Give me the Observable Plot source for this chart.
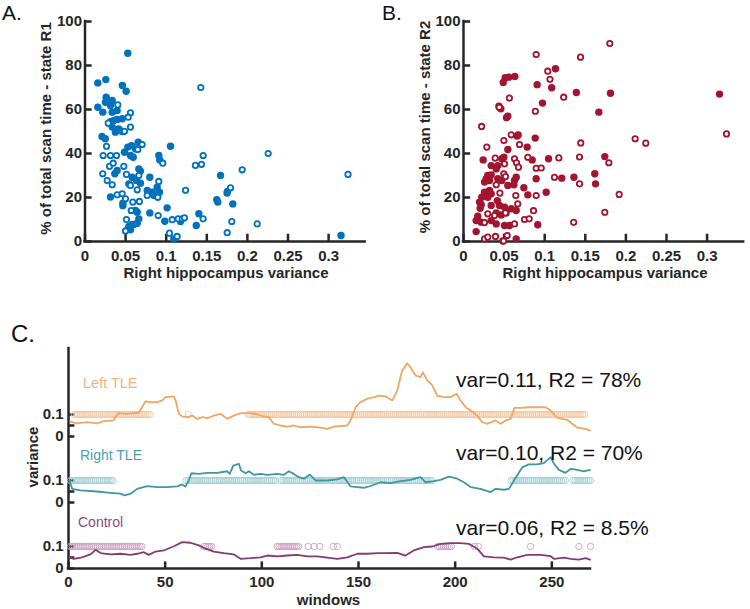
<!DOCTYPE html>
<html>
<head>
<meta charset="utf-8">
<script src="https://cdn.jsdelivr.net/npm/d3@7"></script>
<script src="https://cdn.jsdelivr.net/npm/@observablehq/plot@0.6"></script>
<style>
  html, body { margin: 0; padding: 0; background: #fff; }
  #root { position: relative; width: 750px; height: 609px; overflow: hidden; font-family: "Liberation Sans", Arial, sans-serif; }
  .panel { position: absolute; }
  #overlay { position: absolute; left: 0; top: 0; pointer-events: none; }
</style>
</head>
<body>
<div id="root">
  <div id="pa" class="panel" style="left:0;top:0"></div>
  <div id="pb" class="panel" style="left:370px;top:0"></div>
  <div id="pc" class="panel" style="left:0;top:330px"></div>
</div>
<script>
// ---------- Panel A: state R1 (x = right hippocampus variance, y = % scan time) ----------
const aFilled = [[0.0527,85.6],[0.0158,72.1],[0.0256,73.6],[0.046,70.9],[0.0507,68.3],[0.0261,65.6],[0.0252,63.3],[0.0335,64.1],[0.0314,61.8],[0.0158,61],[0.0219,58.8],[0.0335,58.8],[0.0396,59.5],[0.0458,55.8],[0.0314,54.5],[0.0355,55],[0.0396,55.5],[0.0335,52],[0.0375,49.7],[0.0416,51.2],[0.021,47.7],[0.025,46.7],[0.0458,50],[0.0527,42.9],[0.0486,40.6],[0.0573,43.6],[0.0622,42.1],[0.0655,45.1],[0.1053,43.3],[0.056,39.1],[0.0594,38.3],[0.0367,30.8],[0.0396,32.3],[0.0663,33],[0.0683,32],[0.0581,29.2],[0.0634,27.7],[0.0683,26.5],[0.054,26.2],[0.0314,20.2],[0.0466,17.4],[0.0466,16.3],[0.0798,29.2],[0.0766,23.2],[0.0828,22.4],[0.0889,24.7],[0.0917,22.4],[0.0846,21],[0.0909,39.1],[0.0921,37.1],[0.0868,20.9],[0.0798,13],[0.0983,9.2],[0.1012,15.3],[0.1094,1.2],[0.1176,9.1],[0.0643,13.3],[0.0663,10.3],[0.0643,8.3],[0.054,6.8],[0.056,5.3],[0.0622,14.1],[0.0582,7.7],[0.0601,7.7],[0.1402,12.6],[0.137,7.3],[0.1669,30],[0.1623,19],[0.1636,17.9],[0.175,22],[0.1755,22.8],[0.182,17.1],[0.3153,2.7]];
const aOpen = [[0.1426,70],[0.0404,62.1],[0.056,58.5],[0.0532,56.5],[0.056,52],[0.0286,53.8],[0.0486,50.1],[0.0265,43.3],[0.0704,44.1],[0.065,41.8],[0.0224,39.1],[0.0314,39.1],[0.0388,39.1],[0.0302,34.2],[0.0347,35.6],[0.0478,34.2],[0.0219,30.8],[0.0273,27.7],[0.0335,25.8],[0.0511,30.5],[0.0663,30],[0.056,25.5],[0.0643,23.5],[0.0958,35.6],[0.0909,27.3],[0.1238,23.3],[0.0396,21.2],[0.0458,21.7],[0.0499,19.4],[0.0589,17.9],[0.067,18.2],[0.0766,20.9],[0.0897,20.1],[0.0569,14.1],[0.0511,10],[0.0499,4.8],[0.0901,11.8],[0.1074,9.9],[0.1148,10.3],[0.1197,10.3],[0.1225,10.8],[0.104,3.8],[0.1135,2.3],[0.136,34.6],[0.1435,35.1],[0.1455,39.1],[0.1455,10.3],[0.1808,9.1],[0.1751,4],[0.212,8],[0.1936,32.6],[0.2256,40],[0.1792,24.4],[0.3239,30.5]];

// ---------- Panel B: state R2 ----------
const bFilled = [[0.1133,78.5],[0.0513,74.4],[0.0558,74.7],[0.0632,75],[0.0489,72.3],[0.0907,71.3],[0.1086,69.9],[0.139,67.7],[0.181,67.4],[0.3153,67],[0.0973,62.9],[0.0436,61.5],[0.046,60.3],[0.1667,58.8],[0.053,56.3],[0.0546,57],[0.0883,47],[0.066,47.9],[0.0673,48.4],[0.0546,41.8],[0.0784,42.9],[0.0242,37.1],[0.0472,37.6],[0.0497,38.3],[0.0846,37.1],[0.1047,37.6],[0.174,38.6],[0.0341,34.5],[0.0422,34.5],[0.0403,33],[0.0299,30],[0.0341,30.3],[0.028,28.5],[0.032,27.7],[0.0259,27],[0.0422,28.5],[0.0472,27.7],[0.0546,25.5],[0.062,25.8],[0.0649,29.2],[0.0628,27.7],[0.0743,24.4],[0.0895,28.5],[0.121,28.8],[0.136,29.2],[0.1617,30.8],[0.1626,26.2],[0.1018,22.4],[0.0792,21.2],[0.0259,22.4],[0.032,23.2],[0.0225,20.1],[0.0299,20.1],[0.0341,21.7],[0.0197,17.9],[0.0218,16.7],[0.0205,15.1],[0.0341,16.4],[0.0416,18.6],[0.0443,16.4],[0.0505,15.6],[0.0588,14.9],[0.0649,14.1],[0.0525,13],[0.0464,12.1],[0.0403,13],[0.0176,11.5],[0.0156,9.5],[0.0218,8.8],[0.0341,9.5],[0.0403,8],[0.0505,7.3],[0.0567,7.3],[0.0915,7.6],[0.0156,4.5],[0.0484,0.2],[0.0649,1.2]];
const bOpen = [[0.1802,90],[0.0895,85],[0.1441,83.8],[0.1038,77.4],[0.1065,73.7],[0.1234,65.6],[0.0565,65.2],[0.044,61],[0.0885,59.2],[0.0223,52.3],[0.0587,48.5],[0.0497,45.9],[0.069,44.1],[0.0287,42.9],[0.1444,44.8],[0.2114,46.7],[0.2245,44.7],[0.3239,48.9],[0.039,37.9],[0.0628,37.6],[0.0792,38.3],[0.0653,35.8],[0.0677,33.8],[0.0895,33.3],[0.0957,33.4],[0.1174,38],[0.1429,38.4],[0.1429,26.2],[0.112,29.2],[0.179,35.8],[0.0505,35.3],[0.0497,30.8],[0.0517,29.5],[0.0403,25.8],[0.0448,22],[0.0644,20.9],[0.0895,20.9],[0.1917,21.4],[0.0668,17.1],[0.0862,14],[0.174,13.3],[0.1357,8.7],[0.0259,8.6],[0.0628,8],[0.0751,10],[0.0809,10.3],[0.0394,2.3],[0.0259,1.2],[0.0299,2],[0.0493,0.2],[0.0538,2.7],[0.0517,13],[0.0299,12.6],[0.0382,11.8]];

const scatterXTicks = [0, 0.05, 0.1, 0.15, 0.2, 0.25, 0.3];
const scatterYTicks = [0, 20, 40, 60, 80, 100];

// ---------- Panel C: variance time courses ([window, variance]) ----------
const leftTLE = [[1,0.068],[4.5,0.06],[9.7,0.065],[14.8,0.06],[18.3,0.07],[23.4,0.073],[24.3,0.088],[26,0.106],[30.4,0.103],[36.4,0.108],[38.1,0.133],[39.8,0.16],[42.4,0.156],[45.9,0.156],[48.5,0.164],[50.2,0.179],[54.5,0.182],[55.4,0.164],[57.1,0.103],[58.8,0.091],[61.4,0.088],[64,0.095],[66.6,0.08],[69.2,0.088],[71.8,0.083],[75.2,0.095],[78.6,0.103],[82.1,0.08],[85.5,0.095],[89,0.106],[94.2,0.106],[97.6,0.1],[101.1,0.091],[103.6,0.088],[106.2,0.058],[109.6,0.05],[113.1,0.045],[116.5,0.05],[120,0.042],[125.2,0.045],[130.4,0.04],[133.8,0.035],[137.3,0.045],[144.2,0.05],[145.9,0.073],[148.5,0.133],[151,0.156],[154.5,0.171],[157.9,0.179],[160.5,0.186],[164,0.182],[167.5,0.164],[170,0.209],[172.6,0.3],[175.2,0.333],[176.9,0.315],[179.5,0.277],[182.1,0.27],[183.3,0.292],[185.6,0.255],[188.2,0.232],[190.7,0.186],[194.2,0.179],[197.6,0.179],[200.7,0.194],[202.8,0.164],[205.4,0.133],[208,0.118],[211.4,0.095],[214,0.065],[216.6,0.058],[220.9,0.073],[223.5,0.058],[226.1,0.073],[228.7,0.08],[230.7,0.13],[233.8,0.13],[238.1,0.133],[242.4,0.133],[246.7,0.133],[249.4,0.118],[252.8,0.085],[258,0.076],[260.6,0.058],[263.2,0.04],[267.5,0.035],[269.7,0.027]];
const rightTLE = [[0.5,0.1],[1.9,0.062],[6.2,0.055],[14.8,0.05],[21.7,0.044],[26.9,0.04],[29,0.032],[32.1,0.04],[35.5,0.062],[40.7,0.074],[45.9,0.07],[51.1,0.07],[56.2,0.073],[58.8,0.082],[60.5,0.073],[62.2,0.1],[63.6,0.133],[67.4,0.13],[71.8,0.135],[76.9,0.135],[82.1,0.142],[83.4,0.13],[85.2,0.168],[88.1,0.176],[89.3,0.145],[91.6,0.133],[93.3,0.142],[95.9,0.126],[99.3,0.13],[102.8,0.126],[108,0.13],[111.4,0.126],[114,0.142],[116.5,0.13],[119.2,0.115],[121.8,0.108],[124.9,0.127],[127.8,0.1],[133.9,0.1],[139,0.105],[142.5,0.115],[145.9,0.073],[149.4,0.07],[152.8,0.067],[156.2,0.075],[161.4,0.092],[166.6,0.088],[171.8,0.097],[176.9,0.103],[182.1,0.115],[184.7,0.092],[189,0.097],[192.4,0.103],[196.7,0.118],[201.1,0.108],[204.5,0.092],[208,0.07],[213.1,0.062],[218.3,0.047],[220.9,0.062],[225.2,0.058],[227.8,0.062],[230.4,0.1],[234.7,0.16],[238.1,0.173],[242.4,0.173],[245.9,0.179],[249.4,0.206],[251.1,0.176],[253.7,0.148],[257.1,0.135],[259.7,0.153],[263.2,0.148],[266.6,0.142],[269.7,0.148]];
const control = [[0.5,0.051],[2.7,0.044],[7,0.051],[11.4,0.064],[14,0.085],[16.6,0.07],[21.7,0.064],[26.9,0.067],[32.1,0.062],[35.5,0.067],[39,0.074],[41.5,0.062],[45,0.077],[49.3,0.082],[54.5,0.101],[58.8,0.12],[63.1,0.117],[67.4,0.105],[70.9,0.09],[75.2,0.077],[80.3,0.07],[85.5,0.064],[89,0.044],[94.2,0.047],[99.3,0.051],[102.8,0.059],[108,0.055],[113.1,0.059],[118.3,0.062],[123.5,0.055],[128.6,0.055],[133.8,0.049],[139,0.044],[144.2,0.051],[149.4,0.067],[154.5,0.067],[160.5,0.07],[163.1,0.07],[170,0.071],[174.3,0.059],[178.6,0.082],[183.8,0.097],[188.2,0.1],[192.4,0.112],[197.6,0.115],[202.8,0.115],[207.1,0.112],[211.4,0.09],[214.9,0.055],[220,0.051],[225.2,0.049],[228.7,0.04],[232.1,0.051],[237.3,0.062],[244.2,0.062],[249.4,0.056],[251.1,0.044],[256.3,0.049],[259.7,0.044],[264,0.04],[267.5,0.047],[269.7,0.04]];

// windows in state (runs of consecutive windows, inclusive)
const leftRuns = [[3,42],[62,62],[93,267]];
const rightRuns = [[1,23],[61,107],[110,188],[229,257],[261,270]];
const controlRuns = [[1,38],[70,74],[108,119],[124,124],[127,127],[130,130],[137,137],[139,139],[191,198],[210,210],[212,212],[239,239],[264,264],[270,270]];

const groupNames = ["Left TLE", "Right TLE", "Control"];
const groupOffsets = [0.6, 0.3, 0];
const groupStats = ["var=0.11, R2 = 78%", "var=0.10, R2 = 70%", "var=0.06, R2 = 8.5%"];
const bandTickValues = [0, 0.05, 0.1];
const bandTickLabels = ["0", "", "0.1"];
const windowTicks = [0, 50, 100, 150, 200, 250];

// ---------- styles ----------
const AXIS = "#262626";
const FONT = "'Liberation Sans', Arial, sans-serif";
const blue = "#0072BD", crimson = "#A2142F";
const lineColors = ["#f1a665", "#3f98a0", "#843a72"];
const ringColors = ["#f5c6a0", "#a2d0d5", "#c9a3c2"];
const labelColors = ["#f3b27e", "#4c9ea9", "#8a4a82"];

function scatter(filled, open, color, marginLeft, width) {
  const fmt = d => d === 0 ? "0" : String(d);
  return Plot.plot({
    width, height: 280,
    marginLeft, marginTop: 21, marginBottom: 39,
    marginRight: width - marginLeft - 0.345 * 812,
    x: {domain: [0, 0.345]},
    y: {domain: [0, 100]},
    style: {fontFamily: FONT, fontSize: "15px", fontWeight: "bold", color: AXIS, background: "transparent", overflow: "visible"},
    marks: [
      Plot.axisX(scatterXTicks, {tickSize: 0, tickPadding: 9, tickFormat: fmt, label: null}),
      Plot.axisY(scatterYTicks, {tickSize: 0, tickPadding: 3, label: null}),
      Plot.ruleY(scatterYTicks, {y: d => d, x1: 0, x2: 0.0088, stroke: AXIS, strokeWidth: 2.5}),
      Plot.ruleX(scatterXTicks, {x: d => d, y1: 0, y2: 3.3, stroke: AXIS, strokeWidth: 2.5}),
      Plot.ruleX([0], {stroke: AXIS, strokeWidth: 2.5, strokeLinecap: "square"}),
      Plot.ruleY([0], {stroke: AXIS, strokeWidth: 2.5, strokeLinecap: "square"}),
      Plot.dot(filled, {x: d => d[0], y: d => d[1], r: 3.7, fill: color, stroke: "none"}),
      Plot.dot(open, {x: d => d[0], y: d => d[1], r: 2.7, fill: "white", stroke: color, strokeWidth: 1.8})
    ]
  });
}

document.getElementById("pa").append(scatter(aFilled, aOpen, blue, 84.5, 370));
document.getElementById("pb").append(scatter(bFilled, bOpen, crimson, 93, 380));

// ---------- Panel C ----------
const series = [leftTLE, rightTLE, control];
const runs = [leftRuns, rightRuns, controlRuns];
const bandTicks = groupOffsets.flatMap(o => bandTickValues.map((v, i) => ({y: +(o + v).toFixed(3), label: bandTickLabels[i]})));
const tickLabelOf = new Map(bandTicks.map(t => [t.y, t.label]));

const cMarks = [
  Plot.axisX(windowTicks, {tickSize: 0, tickPadding: 8, label: null}),
  Plot.axisY(bandTicks.map(t => t.y), {tickSize: 0, tickPadding: 5, tickFormat: d => tickLabelOf.get(+d.toFixed(3)), label: null}),
  Plot.ruleY(bandTicks, {y: "y", x1: 0, x2: 3.3, stroke: AXIS, strokeWidth: 2.5}),
  Plot.ruleX(windowTicks, {x: d => d, y1: 0, y2: 0.03, stroke: AXIS, strokeWidth: 2.5}),
  Plot.ruleX([0], {stroke: AXIS, strokeWidth: 2.5, strokeLinecap: "square"}),
  Plot.ruleY([0], {stroke: AXIS, strokeWidth: 2.5, strokeLinecap: "square"})
];
series.forEach((s, g) => {
  const off = groupOffsets[g];
  const wins = runs[g].flatMap(([a, b]) => d3.range(a, b + 1));
  cMarks.push(Plot.dot(wins, {x: d => d, y: off + 0.1, r: 3.2, fill: "none", stroke: ringColors[g], strokeWidth: 0.9}));
});
series.forEach((s, g) => {
  const off = groupOffsets[g];
  cMarks.push(Plot.line(s, {x: d => d[0], y: d => d[1] + off, stroke: lineColors[g], strokeWidth: 1.8, curve: "linear"}));
});

document.getElementById("pc").append(Plot.plot({
  width: 750, height: 279,
  marginLeft: 68, marginRight: 160, marginTop: 18, marginBottom: 41,
  x: {domain: [0, 270]},
  y: {domain: [0, 1]},
  style: {fontFamily: FONT, fontSize: "15px", fontWeight: "bold", color: AXIS, background: "transparent", overflow: "visible"},
  marks: cMarks
}));

// ---------- annotation overlay (titles, axis titles, group labels) ----------
const ns = "http://www.w3.org/2000/svg";
const ov = document.createElementNS(ns, "svg");
ov.setAttribute("id", "overlay");
ov.setAttribute("width", 750);
ov.setAttribute("height", 609);
ov.setAttribute("font-family", FONT);
document.getElementById("root").append(ov);
function label(txt, x, y, opts = {}) {
  const t = document.createElementNS(ns, "text");
  t.textContent = txt;
  t.setAttribute("x", 0);
  t.setAttribute("y", 0);
  t.setAttribute("transform", `translate(${x},${y})` + (opts.rotate ? ` rotate(${opts.rotate})` : ""));
  t.setAttribute("font-size", opts.size || 15);
  t.setAttribute("font-weight", opts.bold ? "bold" : "normal");
  t.setAttribute("text-anchor", opts.anchor || "start");
  t.setAttribute("fill", opts.color || "#111");
  ov.append(t);
}
label("A.", 2, 20, {size: 21});
label("B.", 382, 20, {size: 21});
label("C.", 11, 342, {size: 24});
label("% of total scan time - state R1", 51, 128.5, {rotate: -90, bold: true, anchor: "middle", color: AXIS});
label("% of total scan time - state R2", 430, 127, {rotate: -90, bold: true, anchor: "middle", color: AXIS});
label("Right hippocampus variance", 226, 278, {bold: true, anchor: "middle", color: AXIS});
label("Right hippocampus variance", 605, 278, {bold: true, anchor: "middle", color: AXIS});
label("variance", 38, 457, {rotate: -90, bold: true, anchor: "middle", color: AXIS});
label("windows", 328.5, 605, {bold: true, anchor: "middle", color: AXIS});
const groupLabelPos = [[83, 388, 14.5], [80, 460, 14], [78, 527, 14]];
const statBaselines = [387, 460, 535];
groupNames.forEach((n, g) => {
  label(n, groupLabelPos[g][0], groupLabelPos[g][1], {size: groupLabelPos[g][2], color: labelColors[g]});
  label(groupStats[g], 456, statBaselines[g], {size: 21, color: "#111"});
});
</script>
</body>
</html>
